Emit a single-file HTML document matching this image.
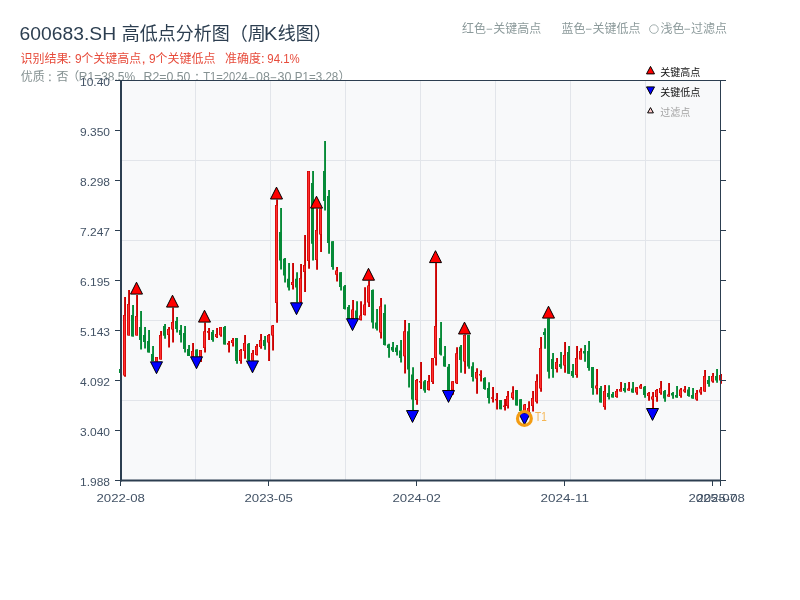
<!DOCTYPE html>
<html lang="zh"><head><meta charset="utf-8"><title>600683.SH 高低点分析图（周K线图）</title>
<style>html,body{margin:0;padding:0;background:#fff}body{width:800px;height:600px;overflow:hidden;position:relative}svg{position:absolute;left:0;top:0;display:block;will-change:transform}text{font-family:"Liberation Sans","Noto Sans CJK SC",sans-serif;}</style></head><body>
<svg width="800" height="600" viewBox="0 0 800 600">
<rect width="800" height="600" fill="#fff"/>
<g id="title">
<text x="19.62" y="40" font-size="18" fill="#2c3e50" textLength="96.45" lengthAdjust="spacingAndGlyphs">600683.SH</text>
<text x="121.8" y="40" font-size="18" fill="#2c3e50" textLength="144" lengthAdjust="spacingAndGlyphs">高低点分析图（周</text>
<text x="264.06" y="40" font-size="18" fill="#2c3e50" textLength="13.37" lengthAdjust="spacingAndGlyphs">K</text>
<text x="277.8" y="40" font-size="18" fill="#2c3e50" textLength="54" lengthAdjust="spacingAndGlyphs">线图）</text>
</g>
<g id="line2">
<text x="20.4" y="62.9" font-size="12" fill="#e74c3c" textLength="48" lengthAdjust="spacingAndGlyphs">识别结果</text>
<text x="67.56" y="62.9" font-size="12" fill="#e74c3c" textLength="4.09" lengthAdjust="spacingAndGlyphs">:</text>
<text x="74.94" y="62.9" font-size="12" fill="#e74c3c" textLength="6.62" lengthAdjust="spacingAndGlyphs">9</text>
<text x="81.2" y="62.9" font-size="12" fill="#e74c3c" textLength="60" lengthAdjust="spacingAndGlyphs">个关键高点</text>
<text x="141.43" y="62.9" font-size="12" fill="#e74c3c" textLength="4.25" lengthAdjust="spacingAndGlyphs">,</text>
<text x="149.04" y="62.9" font-size="12" fill="#e74c3c" textLength="6.62" lengthAdjust="spacingAndGlyphs">9</text>
<text x="155.4" y="62.9" font-size="12" fill="#e74c3c" textLength="60" lengthAdjust="spacingAndGlyphs">个关键低点</text>
<text x="225.1" y="62.9" font-size="12" fill="#e74c3c" textLength="36" lengthAdjust="spacingAndGlyphs">准确度</text>
<text x="260.66" y="62.9" font-size="12" fill="#e74c3c" textLength="4.09" lengthAdjust="spacingAndGlyphs">:</text>
<text x="267.36" y="62.9" font-size="12" fill="#e74c3c" textLength="32.44" lengthAdjust="spacingAndGlyphs">94.1%</text>
</g>
<clipPath id="c3"><path d="M0 60H800V80.2H80V95H0z"/></clipPath>
<g id="line3" clip-path="url(#c3)">
<text x="20.8" y="81.3" font-size="12" fill="#859192" textLength="24" lengthAdjust="spacingAndGlyphs">优质</text>
<circle cx="49.9" cy="75" r="0.85" fill="#859192"/><circle cx="49.9" cy="80.4" r="0.85" fill="#859192"/>
<text x="56.5" y="81.3" font-size="12" fill="#859192">否</text>
<text x="79.3" y="81.3" font-size="12" fill="#859192" text-anchor="end">（</text>
<text x="78.82" y="81.3" font-size="12" fill="#859192" textLength="56.31" lengthAdjust="spacingAndGlyphs">R1=38.5%</text>
<text x="143.59" y="81.3" font-size="12" fill="#859192" textLength="46.89" lengthAdjust="spacingAndGlyphs">R2=0.50</text>
<circle cx="197" cy="74.7" r="0.85" fill="#859192"/><path d="M196.1 79.4h1.8v1.6l-1 1.6h-.7l.6-1.6h-.7z" fill="#859192"/>
<text x="203.25" y="81.3" font-size="12" fill="#859192" textLength="44.48" lengthAdjust="spacingAndGlyphs">T1=2024</text>
<rect x="249" y="77.25" width="5.6" height="0.9" fill="#859192"/>
<text x="256.11" y="81.3" font-size="12" fill="#859192" textLength="13.83" lengthAdjust="spacingAndGlyphs">08</text>
<rect x="270.6" y="77.25" width="5.6" height="0.9" fill="#859192"/>
<text x="277.52" y="81.3" font-size="12" fill="#859192" textLength="13.97" lengthAdjust="spacingAndGlyphs">30</text>
<text x="294.75" y="81.3" font-size="12" fill="#859192" textLength="43.56" lengthAdjust="spacingAndGlyphs">P1=3.28</text>
<text x="338.4" y="81.3" font-size="12" fill="#859192">）</text>
</g>
<g id="note">
<text x="462.1" y="33.1" font-size="12" fill="#8c9a9b" textLength="24" lengthAdjust="spacingAndGlyphs">红色</text>
<rect x="486.6" y="28.75" width="5.5" height="0.9" fill="#8c9a9b"/>
<text x="493.2" y="33.1" font-size="12" fill="#8c9a9b" textLength="48" lengthAdjust="spacingAndGlyphs">关键高点</text>
<text x="561.4" y="33.1" font-size="12" fill="#8c9a9b" textLength="24" lengthAdjust="spacingAndGlyphs">蓝色</text>
<rect x="585.9" y="28.75" width="5.6" height="0.9" fill="#8c9a9b"/>
<text x="592.5" y="33.1" font-size="12" fill="#8c9a9b" textLength="48" lengthAdjust="spacingAndGlyphs">关键低点</text>
<circle cx="653.9" cy="29.1" r="4.3" fill="none" stroke="#8c9a9b" stroke-width="0.8"/>
<text x="660.4" y="33.1" font-size="12" fill="#8c9a9b" textLength="24" lengthAdjust="spacingAndGlyphs">浅色</text>
<rect x="684.4" y="28.75" width="5.6" height="0.9" fill="#8c9a9b"/>
<text x="691" y="33.1" font-size="12" fill="#8c9a9b" textLength="36" lengthAdjust="spacingAndGlyphs">过滤点</text>
</g>
<rect x="121" y="80.5" width="599.5" height="400" fill="#f8f9fa"/>
<rect x="195" y="81" width="1" height="399" fill="#e2e5ea"/>
<rect x="270" y="81" width="1" height="399" fill="#e2e5ea"/>
<rect x="345" y="81" width="1" height="399" fill="#e2e5ea"/>
<rect x="420" y="81" width="1" height="399" fill="#e2e5ea"/>
<rect x="495" y="81" width="1" height="399" fill="#e2e5ea"/>
<rect x="570" y="81" width="1" height="399" fill="#e2e5ea"/>
<rect x="645" y="81" width="1" height="399" fill="#e2e5ea"/>
<rect x="122" y="160" width="598" height="1" fill="#e2e5ea"/>
<rect x="122" y="240" width="598" height="1" fill="#e2e5ea"/>
<rect x="122" y="320" width="598" height="1" fill="#e2e5ea"/>
<rect x="122" y="400" width="598" height="1" fill="#e2e5ea"/>
<g id="candles" shape-rendering="auto">
<path d="M120.1 369h1.9V373h-1.9zM132.1 305h1.9V336.5h-1.9zM140.1 311h1.9V349.5h-1.9zM144.1 327h1.9V348.5h-1.9zM148.1 330h1.9V352.5h-1.9zM152.1 346h1.9V361h-1.9zM164.1 324h1.9V338.75h-1.9zM176.1 317h1.9V332.5h-1.9zM180.1 325h1.9V342.5h-1.9zM184.1 326h1.9V352.5h-1.9zM188.1 345h1.9V356h-1.9zM196.1 349.4h1.9V356.5h-1.9zM212.1 330.1h1.9V341.8h-1.9zM224.1 326h1.9V344.4h-1.9zM236.1 338h1.9V363.75h-1.9zM248.1 343h1.9V361h-1.9zM264.1 336h1.9V349.75h-1.9zM280.1 208h1.9V269.4h-1.9zM284.1 258h1.9V282.5h-1.9zM288.1 263h1.9V290.6h-1.9zM296.1 272.25h1.9V302.5h-1.9zM312.1 171h1.9V260.6h-1.9zM324.1 141h1.9V210.6h-1.9zM328.1 190h1.9V253.75h-1.9zM332.1 241.25h1.9V269.75h-1.9zM340.1 272.25h1.9V290.6h-1.9zM344.1 285h1.9V309.5h-1.9zM348.1 305h1.9V318.75h-1.9zM356.1 301.25h1.9V319h-1.9zM372.1 289.4h1.9V328.6h-1.9zM376.1 309h1.9V330.6h-1.9zM384.1 304.4h1.9V345.6h-1.9zM388.1 343.75h1.9V357.75h-1.9zM392.1 341.9h1.9V351.9h-1.9zM396.1 345h1.9V355.6h-1.9zM400.1 340h1.9V362.5h-1.9zM408.1 323h1.9V387.5h-1.9zM412.1 367.25h1.9V410.25h-1.9zM424.1 380h1.9V392.7h-1.9zM440.1 322h1.9V355.6h-1.9zM444.1 346h1.9V366.75h-1.9zM448.1 364h1.9V390.2h-1.9zM460.1 345.1h1.9V372.75h-1.9zM468.1 335h1.9V368.8h-1.9zM472.1 362.2h1.9V381.6h-1.9zM484.1 377.2h1.9V389.7h-1.9zM488.1 382.2h1.9V403.5h-1.9zM500.1 400.1h1.9V409.25h-1.9zM516.1 390h1.9V405.5h-1.9zM520.1 399.35h1.9V412h-1.9zM544.1 328.2h1.9V348.8h-1.9zM548.1 318.5h1.9V378.5h-1.9zM552.1 353h1.9V377.8h-1.9zM560.1 352h1.9V368.8h-1.9zM568.1 346h1.9V373.8h-1.9zM572.1 364h1.9V377.8h-1.9zM584.1 345h1.9V361.8h-1.9zM588.1 341h1.9V370.8h-1.9zM592.1 367h1.9V394.8h-1.9zM600.1 386h1.9V402.5h-1.9zM608.1 385.2h1.9V399.5h-1.9zM612.1 392h1.9V397.5h-1.9zM624.1 383h1.9V392.5h-1.9zM632.1 382h1.9V392.8h-1.9zM644.1 386h1.9V397.8h-1.9zM664.1 390h1.9V401.8h-1.9zM672.1 392h1.9V398.8h-1.9zM676.1 386h1.9V397.8h-1.9zM688.1 387h1.9V396.8h-1.9zM692.1 388h1.9V398.8h-1.9zM708.1 376h1.9V386.8h-1.9zM716.1 369h1.9V382.8h-1.9z" fill="#068a37"/>
<path d="M124.1 297h1.9V376.8h-1.9zM128.1 290h1.9V335.5h-1.9zM136.1 295h1.9V335.5h-1.9zM156.1 357h1.9V361.5h-1.9zM160.1 331h1.9V359.5h-1.9zM168.1 327h1.9V347.5h-1.9zM172.1 307.5h1.9V342.5h-1.9zM192.1 343h1.9V356.5h-1.9zM200.1 350h1.9V362h-1.9zM204.1 322.5h1.9V352.5h-1.9zM208.1 327.9h1.9V339.9h-1.9zM216.1 327.9h1.9V337.9h-1.9zM220.1 327h1.9V336.7h-1.9zM228.1 341h1.9V352.6h-1.9zM232.1 338h1.9V346.6h-1.9zM240.1 349h1.9V363.75h-1.9zM244.1 335h1.9V358.75h-1.9zM252.1 350h1.9V360.6h-1.9zM256.1 344h1.9V355.6h-1.9zM260.1 334h1.9V348.75h-1.9zM268.1 334h1.9V361h-1.9zM272.1 325h1.9V350.6h-1.9zM276.1 199.4h1.9V322.75h-1.9zM292.1 263h1.9V289.4h-1.9zM300.1 264h1.9V305h-1.9zM304.1 235h1.9V292h-1.9zM308.1 171h1.9V268.75h-1.9zM316.1 208.5h1.9V269.75h-1.9zM320.1 208.5h1.9V252h-1.9zM336.1 267h1.9V281.5h-1.9zM352.1 300h1.9V318.75h-1.9zM360.1 301.25h1.9V320.6h-1.9zM364.1 287.25h1.9V315.6h-1.9zM368.1 280.6h1.9V306.9h-1.9zM380.1 298h1.9V338.6h-1.9zM404.1 320h1.9V373.5h-1.9zM416.1 379h1.9V404.75h-1.9zM420.1 362h1.9V388.9h-1.9zM428.1 375h1.9V390.6h-1.9zM432.1 358h1.9V384h-1.9zM435.1 263h1.9V365.6h-1.9zM452.1 381.25h1.9V394.75h-1.9zM456.1 347.25h1.9V384h-1.9zM464.1 334.4h1.9V373.7h-1.9zM476.1 368.2h1.9V393.8h-1.9zM480.1 370.2h1.9V381.5h-1.9zM492.1 387.1h1.9V402.5h-1.9zM496.1 393.1h1.9V409.6h-1.9zM504.1 399h1.9V410.6h-1.9zM507.1 391h1.9V408.5h-1.9zM512.1 386.15h1.9V399.65h-1.9zM524.1 404h1.9V412.6h-1.9zM528.1 401.2h1.9V413h-1.9zM532.1 391.1h1.9V411.5h-1.9zM536.1 374.2h1.9V403.6h-1.9zM540.1 337h1.9V391.8h-1.9zM556.1 358h1.9V372.5h-1.9zM564.1 342h1.9V372.8h-1.9zM576.1 346h1.9V377.8h-1.9zM580.1 348.2h1.9V359.5h-1.9zM596.1 369h1.9V394.6h-1.9zM604.1 385h1.9V409.8h-1.9zM616.1 389h1.9V397.8h-1.9zM620.1 382h1.9V391.5h-1.9zM628.1 382h1.9V390.8h-1.9zM636.1 387h1.9V394.8h-1.9zM640.1 384h1.9V388.8h-1.9zM648.1 392h1.9V400.8h-1.9zM652.1 392h1.9V408.2h-1.9zM656.1 389h1.9V401.8h-1.9zM660.1 381h1.9V394.8h-1.9zM668.1 383h1.9V396.8h-1.9zM680.1 388h1.9V397.8h-1.9zM684.1 386h1.9V392.8h-1.9zM696.1 390h1.9V400.8h-1.9zM700.1 387h1.9V394.8h-1.9zM704.1 370h1.9V391.8h-1.9zM712.1 373h1.9V382.8h-1.9zM720.1 374h1.9V383.8h-1.9z" fill="#cc0000"/>
<path d="M119 369h3V373h-3zM131 315h3V336.5h-3zM139 327h3V340h-3zM143 335h3V342h-3zM147 341h3V352.5h-3zM151 354h3V361h-3zM163 326h3V335.8h-3zM175 321h3V329h-3zM179 330h3V335h-3zM183 333h3V349h-3zM187 349h3V356h-3zM195 349.4h3V356.5h-3zM211 332h3V339.9h-3zM223 327h3V344.4h-3zM235 338h3V361h-3zM247 343.75h3V360h-3zM263 340h3V346h-3zM279 232h3V260.6h-3zM283 258.75h3V275.6h-3zM287 278.75h3V287.5h-3zM295 278.75h3V287.5h-3zM311 183h3V243.75h-3zM323 171h3V201h-3zM327 196h3V243h-3zM331 241.25h3V267h-3zM339 272.25h3V287h-3zM343 286.25h3V309h-3zM347 307h3V318.75h-3zM355 310.6h3V318.5h-3zM371 290h3V322.5h-3zM375 322.5h3V328.75h-3zM383 313h3V345h-3zM387 344.4h3V348h-3zM391 346.9h3V350.6h-3zM395 347.5h3V351.9h-3zM399 350.6h3V358h-3zM407 331.25h3V369.4h-3zM411 374.4h3V399.4h-3zM423 381.25h3V390.6h-3zM439 338h3V354.5h-3zM443 356.25h3V366.5h-3zM447 366.75h3V390h-3zM459 346.75h3V360h-3zM467 335h3V366.5h-3zM471 366.2h3V377.1h-3zM483 378h3V389h-3zM487 388h3V398h-3zM499 400.1h3V409.25h-3zM515 390h3V405.5h-3zM519 399.35h3V411h-3zM543 332h3V335h-3zM547 318.5h3V371.8h-3zM551 359h3V369h-3zM559 364h3V367h-3zM567 352h3V373.8h-3zM571 371h3V376h-3zM583 351h3V353.5h-3zM587 351h3V368h-3zM591 367h3V388h-3zM599 388h3V402.5h-3zM607 393h3V397h-3zM611 394h3V397.5h-3zM623 388h3V391h-3zM631 388.5h3V392.5h-3zM643 386.8h3V395h-3zM663 391h3V398.5h-3zM671 393h3V395.5h-3zM675 395h3V397.5h-3zM687 389.5h3V396h-3zM691 395h3V398.5h-3zM707 380h3V384h-3zM715 376h3V380.5h-3z" fill="#068a37"/>
<path d="M123 315h3V375.6h-3zM127 304h3V335.5h-3zM135 316h3V335.5h-3zM155 357h3V361.5h-3zM159 335h3V359.5h-3zM167 329h3V335h-3zM171 322h3V329.5h-3zM191 351h3V356.5h-3zM199 350h3V358h-3zM203 331.25h3V348h-3zM207 330.9h3V332.8h-3zM215 333.9h3V336.9h-3zM219 327.1h3V335.2h-3zM227 342.9h3V344.8h-3zM231 339.9h3V343h-3zM239 350h3V361h-3zM243 343h3V351h-3zM251 353h3V360.6h-3zM255 346h3V355h-3zM259 340h3V347h-3zM267 335h3V342.5h-3zM271 325.6h3V335.6h-3zM275 205h3V303h-3zM291 282h3V285h-3zM299 278h3V302h-3zM303 265h3V272h-3zM307 171h3V261h-3zM315 230h3V260h-3zM319 208.5h3V234.5h-3zM335 270.6h3V274.7h-3zM351 309.4h3V318.75h-3zM359 315.6h3V320h-3zM363 304.4h3V315h-3zM367 285.6h3V302.5h-3zM379 306.25h3V332.5h-3zM403 331.25h3V356.25h-3zM415 380h3V400h-3zM419 381h3V382.5h-3zM427 381h3V390h-3zM431 358h3V382h-3zM434 326h3V358h-3zM451 381.25h3V390h-3zM455 353.25h3V383.25h-3zM463 335h3V361.5h-3zM475 372h3V378.6h-3zM479 374h3V375.5h-3zM491 397.25h3V398.75h-3zM495 399h3V400.6h-3zM503 405.5h3V407h-3zM506 396h3V406h-3zM511 392.4h3V398h-3zM523 404.5h3V412h-3zM527 408h3V411.5h-3zM531 398h3V405.9h-3zM535 381h3V401.75h-3zM539 348h3V388.5h-3zM555 362h3V369h-3zM563 355h3V365.5h-3zM575 358h3V375h-3zM579 351h3V359.5h-3zM595 385.5h3V388.5h-3zM603 391h3V407h-3zM615 391h3V397h-3zM619 389h3V391.5h-3zM627 388.5h3V390.5h-3zM635 387.2h3V392.5h-3zM639 385.5h3V388.5h-3zM647 393h3V396h-3zM651 396.5h3V399.5h-3zM655 390h3V397h-3zM659 388h3V393h-3zM667 394.5h3V396.5h-3zM679 389.5h3V396h-3zM683 389.5h3V391.5h-3zM695 393h3V399.5h-3zM699 389.5h3V392.5h-3zM703 376h3V391.5h-3zM711 376h3V381.5h-3zM719 375h3V380.5h-3z" fill="#cc0000"/>
<path d="M123.75 315.5h1.5V375.1h-1.5zM127.75 304.5h1.5V335h-1.5zM135.75 316.5h1.5V335h-1.5zM155.75 357.5h1.5V361h-1.5zM159.75 335.5h1.5V359h-1.5zM167.75 329.5h1.5V334.5h-1.5zM171.75 322.5h1.5V329h-1.5zM191.75 351.5h1.5V356h-1.5zM199.75 350.5h1.5V357.5h-1.5zM203.75 331.75h1.5V347.5h-1.5zM207.75 331.4h1.5V332.3h-1.5zM215.75 334.4h1.5V336.4h-1.5zM219.75 327.6h1.5V334.7h-1.5zM227.75 343.4h1.5V344.3h-1.5zM231.75 340.4h1.5V342.5h-1.5zM239.75 350.5h1.5V360.5h-1.5zM243.75 343.5h1.5V350.5h-1.5zM251.75 353.5h1.5V360.1h-1.5zM255.75 346.5h1.5V354.5h-1.5zM259.75 340.5h1.5V346.5h-1.5zM267.75 335.5h1.5V342h-1.5zM271.75 326.1h1.5V335.1h-1.5zM275.75 205.5h1.5V302.5h-1.5zM291.75 282.5h1.5V284.5h-1.5zM299.75 278.5h1.5V301.5h-1.5zM303.75 265.5h1.5V271.5h-1.5zM307.75 171.5h1.5V260.5h-1.5zM315.75 230.5h1.5V259.5h-1.5zM319.75 209h1.5V234h-1.5zM335.75 271.1h1.5V274.2h-1.5zM351.75 309.9h1.5V318.25h-1.5zM359.75 316.1h1.5V319.5h-1.5zM363.75 304.9h1.5V314.5h-1.5zM367.75 286.1h1.5V302h-1.5zM379.75 306.75h1.5V332h-1.5zM403.75 331.75h1.5V355.75h-1.5zM415.75 380.5h1.5V399.5h-1.5zM419.75 381.5h1.5V382h-1.5zM427.75 381.5h1.5V389.5h-1.5zM431.75 358.5h1.5V381.5h-1.5zM434.75 326.5h1.5V357.5h-1.5zM451.75 381.75h1.5V389.5h-1.5zM455.75 353.75h1.5V382.75h-1.5zM463.75 335.5h1.5V361h-1.5zM475.75 372.5h1.5V378.1h-1.5zM479.75 374.5h1.5V375h-1.5zM491.75 397.75h1.5V398.25h-1.5zM495.75 399.5h1.5V400.1h-1.5zM503.75 406h1.5V406.5h-1.5zM506.75 396.5h1.5V405.5h-1.5zM511.75 392.9h1.5V397.5h-1.5zM523.75 405h1.5V411.5h-1.5zM527.75 408.5h1.5V411h-1.5zM531.75 398.5h1.5V405.4h-1.5zM535.75 381.5h1.5V401.25h-1.5zM539.75 348.5h1.5V388h-1.5zM555.75 362.5h1.5V368.5h-1.5zM563.75 355.5h1.5V365h-1.5zM575.75 358.5h1.5V374.5h-1.5zM579.75 351.5h1.5V359h-1.5zM595.75 386h1.5V388h-1.5zM603.75 391.5h1.5V406.5h-1.5zM615.75 391.5h1.5V396.5h-1.5zM619.75 389.5h1.5V391h-1.5zM627.75 389h1.5V390h-1.5zM635.75 387.7h1.5V392h-1.5zM639.75 386h1.5V388h-1.5zM647.75 393.5h1.5V395.5h-1.5zM651.75 397h1.5V399h-1.5zM655.75 390.5h1.5V396.5h-1.5zM659.75 388.5h1.5V392.5h-1.5zM667.75 395h1.5V396h-1.5zM679.75 390h1.5V395.5h-1.5zM683.75 390h1.5V391h-1.5zM695.75 393.5h1.5V399h-1.5zM699.75 390h1.5V392h-1.5zM703.75 376.5h1.5V391h-1.5zM711.75 376.5h1.5V381h-1.5zM719.75 375.5h1.5V380h-1.5z" fill="#ff3030"/>
</g>
<g id="markers" stroke="#000" stroke-width="1" stroke-linejoin="miter">
<path d="M130.5 294.1L142.5 294.1L136.5 282.2z" fill="#ff0000"/>
<path d="M166.5 307.1L178.5 307.1L172.5 295.2z" fill="#ff0000"/>
<path d="M198.5 322.1L210.5 322.1L204.5 310.2z" fill="#ff0000"/>
<path d="M270.5 199L282.5 199L276.5 187.1z" fill="#ff0000"/>
<path d="M310.5 208.1L322.5 208.1L316.5 196.2z" fill="#ff0000"/>
<path d="M362.5 280.2L374.5 280.2L368.5 268.3z" fill="#ff0000"/>
<path d="M429.5 262.6L441.5 262.6L435.5 250.7z" fill="#ff0000"/>
<path d="M458.5 334L470.5 334L464.5 322.1z" fill="#ff0000"/>
<path d="M542.5 318.1L554.5 318.1L548.5 306.2z" fill="#ff0000"/>
<path d="M150.5 361.8L162.5 361.8L156.5 373.7z" fill="#0000ff"/>
<path d="M190.5 356.8L202.5 356.8L196.5 368.7z" fill="#0000ff"/>
<path d="M246.5 360.9L258.5 360.9L252.5 372.8z" fill="#0000ff"/>
<path d="M290.5 302.8L302.5 302.8L296.5 314.7z" fill="#0000ff"/>
<path d="M346.5 318.7L358.5 318.7L352.5 330.6z" fill="#0000ff"/>
<path d="M406.5 410.55L418.5 410.55L412.5 422.45z" fill="#0000ff"/>
<path d="M442.5 390.5L454.5 390.5L448.5 402.4z" fill="#0000ff"/>
<path d="M518.5 412.9L530.5 412.9L524.5 424.8z" fill="#0000ff"/>
<path d="M646.5 408.5L658.5 408.5L652.5 420.4z" fill="#0000ff"/>
</g>
<circle cx="524.4" cy="418.4" r="6.9" fill="none" stroke="#f39c12" stroke-width="3.2"/>
<text x="535.08" y="420.7" font-size="12" fill="#f5b653" textLength="11.61" lengthAdjust="spacingAndGlyphs">T1</text>
<g id="axes" fill="#2c3e50">
<rect x="120" y="80" width="2" height="401.5"/>
<rect x="120" y="479.5" width="601" height="2"/>
<rect x="120" y="80" width="606" height="1"/>
<rect x="720" y="80" width="1" height="401.5"/>
<rect x="115" y="80" width="5" height="1"/>
<rect x="721" y="80" width="5" height="1"/>
<rect x="115" y="130" width="5" height="1"/>
<rect x="721" y="130" width="5" height="1"/>
<rect x="115" y="180" width="5" height="1"/>
<rect x="721" y="180" width="5" height="1"/>
<rect x="115" y="230" width="5" height="1"/>
<rect x="721" y="230" width="5" height="1"/>
<rect x="115" y="280" width="5" height="1"/>
<rect x="721" y="280" width="5" height="1"/>
<rect x="115" y="330" width="5" height="1"/>
<rect x="721" y="330" width="5" height="1"/>
<rect x="115" y="380" width="5" height="1"/>
<rect x="721" y="380" width="5" height="1"/>
<rect x="115" y="430" width="5" height="1"/>
<rect x="721" y="430" width="5" height="1"/>
<rect x="115" y="480" width="5" height="1"/>
<rect x="721" y="480" width="5" height="1"/>
<rect x="120" y="481" width="1" height="5"/>
<rect x="268" y="481" width="1" height="5"/>
<rect x="416" y="481" width="1" height="5"/>
<rect x="564" y="481" width="1" height="5"/>
<rect x="712" y="481" width="1" height="5"/>
<rect x="720" y="481" width="1" height="5"/>
</g>
<g id="ticklabels" font-size="11" fill="#435366">
<text x="110" y="86.2" text-anchor="end" textLength="30" lengthAdjust="spacingAndGlyphs">10.40</text>
<text x="110" y="136.2" text-anchor="end" textLength="30" lengthAdjust="spacingAndGlyphs">9.350</text>
<text x="110" y="186.2" text-anchor="end" textLength="30" lengthAdjust="spacingAndGlyphs">8.298</text>
<text x="110" y="236.2" text-anchor="end" textLength="30" lengthAdjust="spacingAndGlyphs">7.247</text>
<text x="110" y="286.2" text-anchor="end" textLength="30" lengthAdjust="spacingAndGlyphs">6.195</text>
<text x="110" y="336.2" text-anchor="end" textLength="30" lengthAdjust="spacingAndGlyphs">5.143</text>
<text x="110" y="386.2" text-anchor="end" textLength="30" lengthAdjust="spacingAndGlyphs">4.092</text>
<text x="110" y="436.2" text-anchor="end" textLength="30" lengthAdjust="spacingAndGlyphs">3.040</text>
<text x="110" y="486.2" text-anchor="end" textLength="30" lengthAdjust="spacingAndGlyphs">1.988</text>
<text x="120.7" y="501.9" text-anchor="middle" textLength="48.5" lengthAdjust="spacingAndGlyphs">2022-08</text>
<text x="268.7" y="501.9" text-anchor="middle" textLength="48.5" lengthAdjust="spacingAndGlyphs">2023-05</text>
<text x="416.7" y="501.9" text-anchor="middle" textLength="48.5" lengthAdjust="spacingAndGlyphs">2024-02</text>
<text x="564.7" y="501.9" text-anchor="middle" textLength="48.5" lengthAdjust="spacingAndGlyphs">2024-11</text>
<text x="712.7" y="501.9" text-anchor="middle" textLength="48.5" lengthAdjust="spacingAndGlyphs">2025-07</text>
<text x="720.7" y="501.9" text-anchor="middle" textLength="48.5" lengthAdjust="spacingAndGlyphs">2025-08</text>
</g>
<g id="legend">
<g stroke="#000" stroke-width="1">
<path d="M646.5 73.9L654.5 73.9L650.5 66.4z" fill="#ff0000"/>
<path d="M646.5 86.9L654.5 86.9L650.5 94.4z" fill="#0000ff"/>
<path d="M647.6 112.9L653.4 112.9L650.5 107.6z" fill="#ffcccc"/>
</g>
<text x="660.3" y="76" font-size="10" fill="#111" textLength="40" lengthAdjust="spacingAndGlyphs">关键高点</text>
<text x="660.3" y="96" font-size="10" fill="#111" textLength="40" lengthAdjust="spacingAndGlyphs">关键低点</text>
<text x="660.3" y="116" font-size="10" fill="#a3a3a3" textLength="30" lengthAdjust="spacingAndGlyphs">过滤点</text>
</g>
</svg></body></html>
